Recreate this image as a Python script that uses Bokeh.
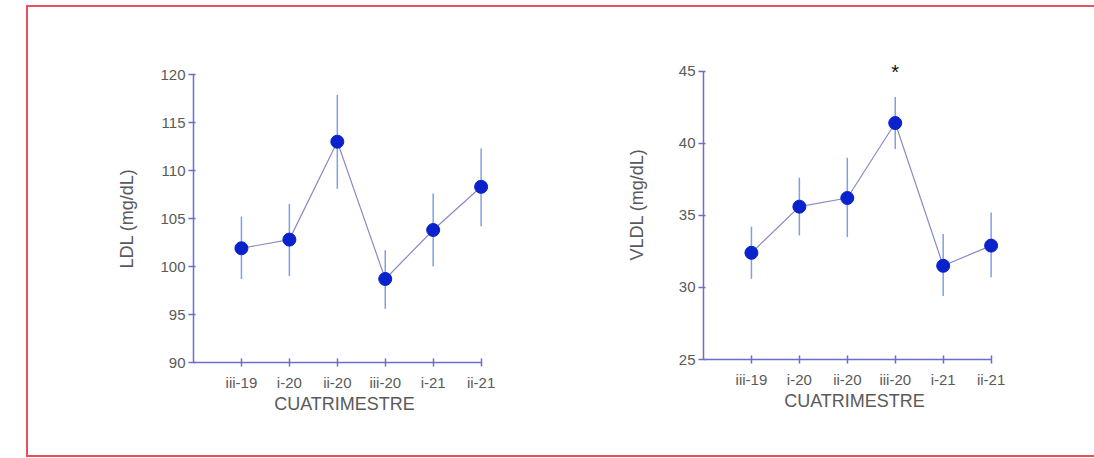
from bokeh.plotting import figure
from bokeh.models import Range1d, FixedTicker, ColumnDataSource
from bokeh.core.properties import value
from bokeh.layouts import row
from bokeh.embed import file_html
from bokeh.resources import INLINE

# ---- data ----
categories = ["iii-19", "i-20", "ii-20", "iii-20", "i-21", "ii-21"]

ldl_mean = [101.9, 102.8, 113.0, 98.7, 103.8, 108.3]
ldl_upper = [105.2, 106.5, 117.9, 101.7, 107.6, 112.3]
ldl_lower = [98.7, 99.0, 108.1, 95.6, 100.0, 104.2]
ldl_ticks = [90, 95, 100, 105, 110, 115, 120]

vldl_mean = [32.4, 35.6, 36.2, 41.4, 31.5, 32.9]
vldl_upper = [34.2, 37.6, 39.0, 43.2, 33.7, 35.2]
vldl_lower = [30.6, 33.6, 33.5, 39.6, 29.4, 30.7]
vldl_ticks = [25, 30, 35, 40, 45]
vldl_mark_index = [3]
vldl_mark_value = [45.2]
vldl_mark_text = ["*"]

FONT = "Liberation Sans"
AXIS_COL = "#6b6bd0"
LINE_COL = "#8a8ac6"
ERR_COL = "#7fa0e6"
MARK_COL = "#0a22cc"
TEXT_COL = "#5a5a5a"

PX_PER_CAT = 48.0
X_PAD = 0.3  # extra room right of the last category so markers aren't clipped


def make_plot(mean, lo, hi, ticks, ylabel, borders, label_standoff, y_extra=0.0):
    n = len(categories)
    xs = list(range(n))
    src = ColumnDataSource(dict(x=xs, m=mean, lo=lo, hi=hi))
    bl, bt, br, bb = borders
    span = ticks[-1] - ticks[0]
    px_per_y = 288.0 / span
    extra_top = int(round(y_extra * px_per_y))
    extra_right = int(round(X_PAD * PX_PER_CAT))
    p = figure(frame_width=288 + extra_right, frame_height=288 + extra_top,
               min_border_left=bl, min_border_top=bt - extra_top,
               min_border_right=br - extra_right, min_border_bottom=bb,
               x_range=Range1d(-1, n - 1 + X_PAD),
               y_range=Range1d(ticks[0], ticks[-1] + y_extra),
               frame_align=False,
               output_backend="svg", toolbar_location=None,
               background_fill_color="white", border_fill_color="white")
    p.outline_line_color = None
    p.xgrid.visible = False
    p.ygrid.visible = False

    p.segment(x0="x", y0="lo", x1="x", y1="hi", source=src,
              line_color=ERR_COL, line_width=1.5)
    p.line(x="x", y="m", source=src, line_color=LINE_COL, line_width=1.2)
    p.scatter(x="x", y="m", source=src, size=13, fill_color=MARK_COL,
              line_color=MARK_COL)

    xa = p.xaxis[0]
    xa.bounds = (-1, n - 1)
    xa.ticker = FixedTicker(ticks=xs)
    xa.major_label_overrides = {i: c for i, c in enumerate(categories)}
    xa.minor_tick_line_color = None
    xa.major_tick_in = 4
    xa.major_tick_out = 4
    xa.axis_line_color = AXIS_COL
    xa.major_tick_line_color = AXIS_COL
    xa.axis_line_width = 1.5
    xa.major_tick_line_width = 1.5
    xa.major_label_text_font = FONT
    xa.major_label_text_font_size = "15px"
    xa.major_label_text_color = TEXT_COL
    xa.major_label_standoff = 7
    xa.axis_label = "CUATRIMESTRE"
    xa.axis_label_text_font = FONT
    xa.axis_label_text_font_size = "18px"
    xa.axis_label_text_font_style = "normal"
    xa.axis_label_text_color = TEXT_COL
    xa.axis_label_standoff = 0

    ya = p.yaxis[0]
    ya.bounds = (ticks[0], ticks[-1])
    ya.ticker = FixedTicker(ticks=ticks)
    ya.minor_tick_line_color = None
    ya.major_tick_in = 2
    ya.major_tick_out = 5
    ya.axis_line_color = AXIS_COL
    ya.major_tick_line_color = AXIS_COL
    ya.axis_line_width = 1.5
    ya.major_tick_line_width = 1.5
    ya.major_label_text_font = FONT
    ya.major_label_text_font_size = "15px"
    ya.major_label_text_color = TEXT_COL
    ya.major_label_standoff = 3
    ya.axis_label = ylabel
    ya.axis_label_text_font = FONT
    ya.axis_label_text_font_size = "18px"
    ya.axis_label_text_font_style = "normal"
    ya.axis_label_text_color = TEXT_COL
    ya.axis_label_standoff = label_standoff
    return p


p1 = make_plot(ldl_mean, ldl_lower, ldl_upper, ldl_ticks, "LDL (mg/dL)",
               (165, 67, 81, 93), 20)
p2 = make_plot(vldl_mean, vldl_lower, vldl_upper, vldl_ticks, "VLDL (mg/dL)",
               (141, 64, 103, 96), 29, y_extra=1.5)
p2.text(x=vldl_mark_index, y=vldl_mark_value, text=vldl_mark_text,
        text_font=value(FONT), text_font_size="20px", text_color="#111111",
        text_align="center", text_baseline="middle", y_offset=4)

border = "2px solid #e8505f"
layout = row(p1, p2, styles={"margin-left": "26px", "margin-top": "5px",
                             "border-left": border, "border-top": border,
                             "border-bottom": border})

open("out.html", "w").write(file_html(layout, INLINE))
